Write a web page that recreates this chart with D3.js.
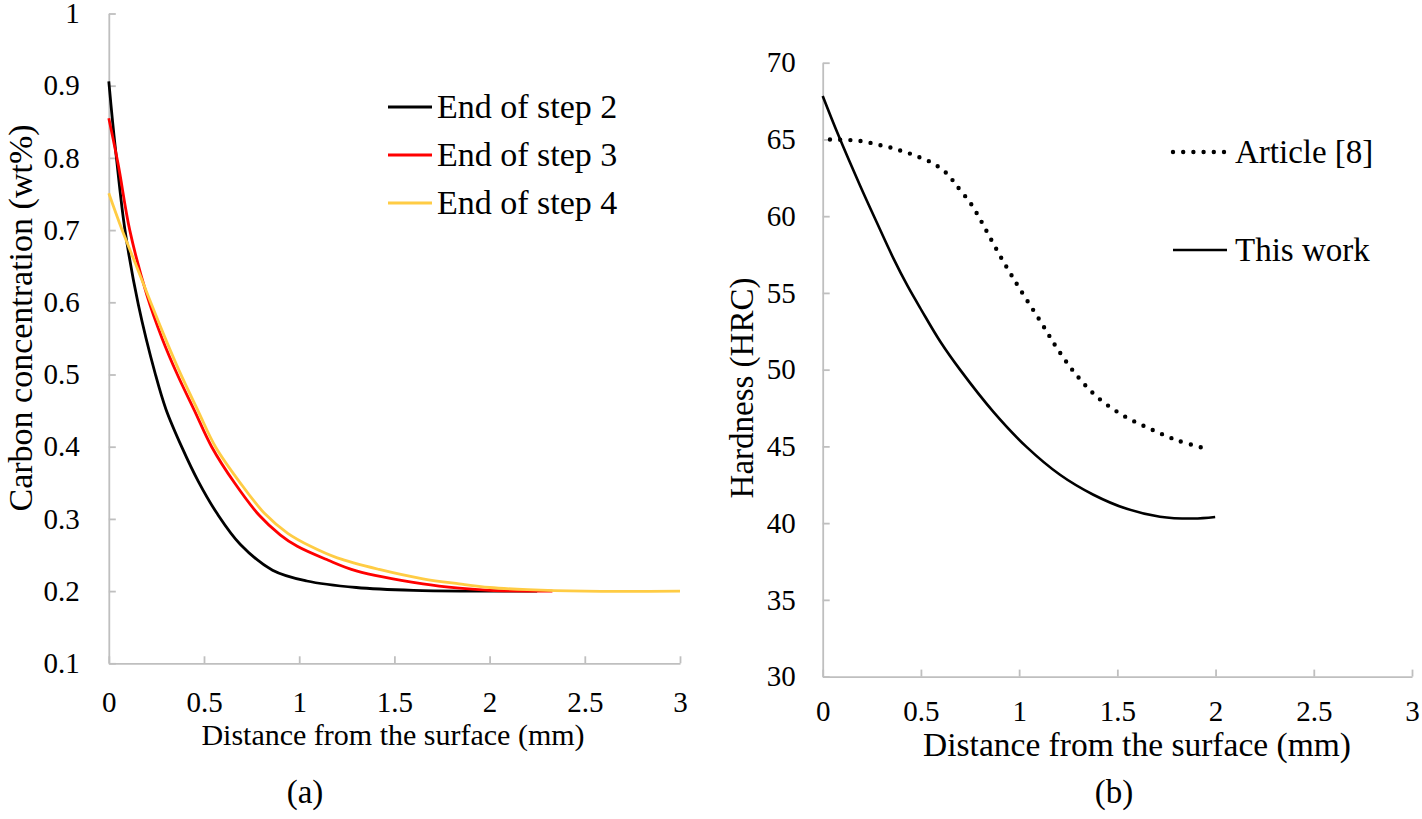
<!DOCTYPE html>
<html>
<head>
<meta charset="utf-8">
<script src="https://cdn.jsdelivr.net/npm/d3@7/dist/d3.min.js"></script>
<style>
  html, body { margin: 0; padding: 0; background: #fff; }
  svg { display: block; }
  svg text { font-family: "Liberation Serif", "Tinos", "DejaVu Serif", "Times New Roman", Times, serif !important; fill: #000; }
</style>
</head>
<body>
<svg id="chart" width="1422" height="819"></svg>
<script>
// ---------- Data ----------
// Panel (a): carbon concentration (wt%) vs distance from surface (mm)
const seriesA = ["End of step 2", "End of step 3", "End of step 4"];
const step2 = [[0,0.906],[0.02,0.85],[0.04,0.80],[0.085,0.70],[0.155,0.597],[0.245,0.50],[0.3,0.452],[0.386,0.398],[0.47,0.352],[0.57,0.307],[0.69,0.265],[0.86,0.229],[1.04,0.214],[1.3,0.205],[1.6,0.201],[1.9,0.2],[2.25,0.2]];
const step3 = [[0,0.855],[0.05,0.79],[0.11,0.70],[0.2,0.61],[0.28,0.55],[0.36,0.50],[0.45,0.45],[0.54,0.40],[0.66,0.35],[0.79,0.305],[0.9,0.278],[0.99,0.262],[1.15,0.243],[1.3,0.228],[1.65,0.21],[1.84,0.204],[2.0,0.201],[2.33,0.2]];
const step4 = [[0,0.751],[0.07,0.70],[0.15,0.647],[0.22,0.60],[0.3,0.548],[0.37,0.505],[0.47,0.449],[0.56,0.40],[0.69,0.35],[0.82,0.307],[0.94,0.28],[1.06,0.262],[1.2,0.246],[1.42,0.23],[1.65,0.217],[1.84,0.21],[2.0,0.205],[2.2,0.202],[2.5,0.2],[3.0,0.2]];
const xTicksA = [0, 0.5, 1, 1.5, 2, 2.5, 3];
const yTicksA = [0.1, 0.2, 0.3, 0.4, 0.5, 0.6, 0.7, 0.8, 0.9, 1];

// Panel (b): hardness (HRC) vs distance from surface (mm)
const seriesB = ["Article [8]", "This work"];
const article8 = [[0.037,65.0],[0.139,64.96],[0.19,64.9],[0.241,64.78],[0.292,64.63],[0.343,64.48],[0.39,64.3],[0.441,64.09],[0.49,63.85],[0.538,63.6],[0.582,63.28],[0.623,62.89],[0.657,62.41],[0.687,61.91],[0.755,60.8],[0.804,59.74],[0.852,58.6],[0.903,57.42],[0.954,56.3],[1.008,55.17],[1.118,52.95],[1.2,51.26],[1.293,49.63],[1.398,48.21],[1.526,47.04],[1.663,46.17],[1.806,45.39],[1.952,44.85]];
const thisWork = [[0,67.83],[0.079,65.3],[0.19,62.0],[0.275,59.6],[0.36,57.25],[0.43,55.5],[0.504,53.85],[0.6,51.8],[0.699,50.0],[0.869,47.25],[1.039,44.95],[1.208,43.15],[1.378,41.85],[1.548,40.93],[1.717,40.42],[1.887,40.3],[1.998,40.4]];
const xTicksB = [0, 0.5, 1, 1.5, 2, 2.5, 3];
const yTicksB = [30, 35, 40, 45, 50, 55, 60, 65, 70];

// ---------- Drawing ----------
const svg = d3.select("#chart");
const AXIS = "#bfbfbf";
const FONT = "Liberation Serif, Tinos, DejaVu Serif, serif";
const fmt = d => String(+d.toFixed(1));

function styleAxis(g) {
  g.attr("font-family", FONT);
  g.select(".domain").attr("stroke", AXIS).attr("stroke-width", 1.8);
  g.selectAll(".tick line").attr("stroke", AXIS).attr("stroke-width", 1.8);
  g.selectAll(".tick text").attr("font-size", 29).attr("fill", "#000");
}

// Panel (a)
const xA = d3.scaleLinear().domain([0, 3]).range([108.8, 680]);
const yA = d3.scaleLinear().domain([0.1, 1]).range([663.3, 13.5]);

svg.append("g").attr("transform", `translate(0,${yA(0.1)})`)
  .call(d3.axisBottom(xA).tickValues(xTicksA).tickFormat(fmt).tickSize(-7).tickSizeOuter(0).tickPadding(28))
  .call(styleAxis);
svg.append("g").attr("transform", `translate(${xA(0)},0)`)
  .call(d3.axisLeft(yA).tickValues(yTicksA).tickFormat(fmt).tickSize(-7).tickSizeOuter(0).tickPadding(29))
  .call(styleAxis);

const lineA = d3.line().x(d => xA(d[0])).y(d => yA(d[1])).curve(d3.curveCatmullRom.alpha(0.5));
const colorsA = ["#000000", "#ff0000", "#ffcc44"];
const dataA = [step2, step3, step4];
[0, 1, 2].forEach(i => {
  svg.append("path").datum(dataA[i]).attr("d", lineA)
    .attr("fill", "none").attr("stroke", colorsA[i]).attr("stroke-width", 2.8)
    .attr("stroke-linejoin", "round");
});

// Legend (a)
const legA = [107, 155, 203];
seriesA.forEach((s, i) => {
  svg.append("line").attr("x1", 388).attr("x2", 432).attr("y1", legA[i]).attr("y2", legA[i])
    .attr("stroke", colorsA[i]).attr("stroke-width", 2.8);
  svg.append("text").attr("x", 437).attr("y", legA[i]).attr("dy", "0.33em")
    .attr("font-family", FONT).attr("font-size", 34).text(s);
});

// Axis titles (a)
svg.append("text").attr("x", 393).attr("y", 735).attr("dy", "0.33em").attr("font-family", FONT)
  .attr("text-anchor", "middle").attr("font-size", 30).text("Distance from the surface (mm)");
svg.append("text").attr("transform", "translate(21,318) rotate(-90)").attr("dy", "0.33em").attr("font-family", FONT)
  .attr("text-anchor", "middle").attr("font-size", 34).text("Carbon concentration (wt%)");
svg.append("text").attr("x", 305).attr("y", 792).attr("dy", "0.33em").attr("font-family", FONT)
  .attr("text-anchor", "middle").attr("font-size", 33).text("(a)");

// Panel (b)
const xB = d3.scaleLinear().domain([0, 3]).range([822.7, 1412]);
const yB = d3.scaleLinear().domain([30, 70]).range([676.6, 62.7]);

svg.append("g").attr("transform", `translate(0,${yB(30)})`)
  .call(d3.axisBottom(xB).tickValues(xTicksB).tickFormat(fmt).tickSize(-7).tickSizeOuter(0).tickPadding(24))
  .call(styleAxis);
svg.append("g").attr("transform", `translate(${xB(0)},0)`)
  .call(d3.axisLeft(yB).tickValues(yTicksB).tickFormat(fmt).tickSize(-7).tickSizeOuter(0).tickPadding(27))
  .call(styleAxis);

const lineB = d3.line().x(d => xB(d[0])).y(d => yB(d[1])).curve(d3.curveCatmullRom.alpha(0.5));
svg.append("path").datum(thisWork).attr("d", lineB)
  .attr("fill", "none").attr("stroke", "#000").attr("stroke-width", 2.6);
svg.append("path").datum(article8).attr("d", lineB)
  .attr("fill", "none").attr("stroke", "#000").attr("stroke-width", 4.4)
  .attr("stroke-linecap", "round").attr("stroke-dasharray", "0 10.2");

// Legend (b)
svg.append("line").attr("x1", 1173).attr("x2", 1227).attr("y1", 152).attr("y2", 152)
  .attr("stroke", "#000").attr("stroke-width", 4.4).attr("stroke-linecap", "round").attr("stroke-dasharray", "0 10.2");
svg.append("text").attr("x", 1235).attr("y", 152).attr("dy", "0.33em").attr("font-family", FONT).attr("font-size", 33).text(seriesB[0]);
svg.append("line").attr("x1", 1173).attr("x2", 1227).attr("y1", 250).attr("y2", 250)
  .attr("stroke", "#000").attr("stroke-width", 2.6);
svg.append("text").attr("x", 1235).attr("y", 250).attr("dy", "0.33em").attr("font-family", FONT).attr("font-size", 33).text(seriesB[1]);

// Axis titles (b)
svg.append("text").attr("x", 1137).attr("y", 745).attr("dy", "0.33em").attr("font-family", FONT)
  .attr("text-anchor", "middle").attr("font-size", 33.5).text("Distance from the surface (mm)");
svg.append("text").attr("transform", "translate(742,388) rotate(-90)").attr("dy", "0.33em").attr("font-family", FONT)
  .attr("text-anchor", "middle").attr("font-size", 33).text("Hardness (HRC)");
svg.append("text").attr("x", 1114).attr("y", 792).attr("dy", "0.33em").attr("font-family", FONT)
  .attr("text-anchor", "middle").attr("font-size", 33).text("(b)");
</script>
</body>
</html>
